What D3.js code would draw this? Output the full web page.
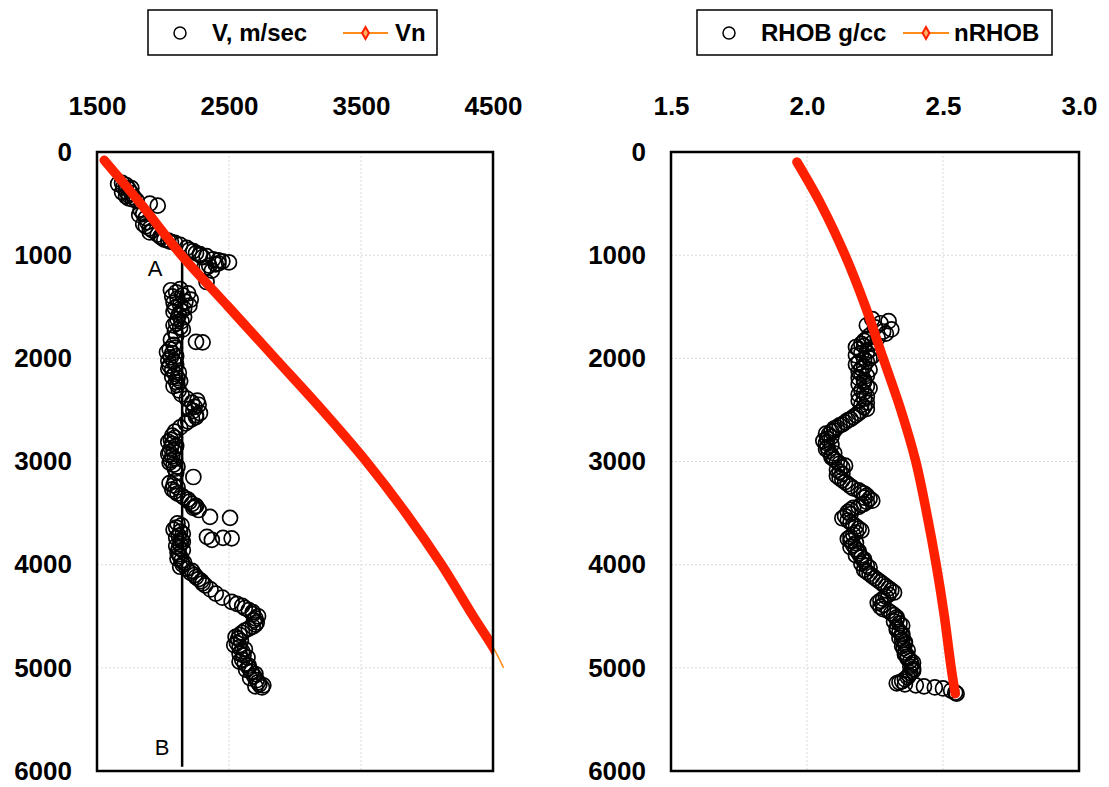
<!DOCTYPE html>
<html>
<head>
<meta charset="utf-8">
<script src="https://cdn.jsdelivr.net/npm/d3@7"></script>
<style>
  body { margin: 0; background: #fff; }
  svg { display: block; font-family: "Liberation Sans", Arial, sans-serif; }
</style>
</head>
<body>
<svg id="chart" width="1109" height="787"></svg>
<script>
// ---- data ----
var depthTicks = [0, 1000, 2000, 3000, 4000, 5000, 6000];
var velTicks = [1500, 2500, 3500, 4500];
var rhoTicks = [1.5, 2.0, 2.5, 3.0];

// measured velocity (m/sec) vs depth
var vDepth = [300, 320, 340, 360, 380, 400, 420, 440, 460, 500, 520, 560, 600, 640, 680, 720, 760, 800, 830, 860,
  880, 900, 930, 960, 990, 1010, 1040, 1060, 1070, 1080, 1100, 1130, 1150, 1260, 1330, 1360, 1390, 1420, 1450, 1480,
  1510, 1540, 1580, 1620, 1660, 1700, 1740, 1780, 1820, 1840, 1845, 1870, 1910, 1950, 1990, 2030, 2070, 2110, 2150, 2190,
  2230, 2270, 2310, 2350, 2390, 2430, 2470, 2510, 2550, 2590, 2630, 2670, 2710, 2750, 2790, 2830, 2870, 2910, 2950, 2990,
  3030, 3070, 3110, 3150, 3190, 3230, 3270, 3310, 3350, 3390, 3430, 3440, 3470, 3537, 3546, 3730, 3740, 3745, 3760, 3600,
  3640, 3680, 3720, 3760, 3800, 3840, 3880, 3920, 3960, 4000, 4040, 4080, 4120, 4160, 4200, 4240, 4280, 4320, 4360, 4400,
  4440, 4480, 4520, 4560, 4600, 4640, 4680, 4720, 4760, 4800, 4840, 4880, 4920, 4960, 5000, 5040, 5080, 5120, 5160, 5190,
  310, 350, 390, 430, 450, 470, 610, 700, 740, 780, 820, 850, 870, 950, 980, 1000, 1020, 1050, 1090, 1120,
  1340, 1370, 1400, 1430, 1460, 1490, 1520, 1550, 1600, 1640, 1680, 1720, 1900, 1940, 1980, 2020, 2060, 2100, 2140, 2180,
  2220, 2260, 2410, 2450, 2490, 2530, 2570, 2610, 2770, 2810, 2850, 2890, 2930, 2970, 3010, 3050, 3210, 3250, 3290, 3330,
  3370, 3410, 3450, 3620, 3660, 3700, 3740, 3780, 3820, 3860, 3900, 3940, 3980, 4020, 4060, 4100, 4140, 4180, 4380, 4420,
  4460, 4500, 4540, 4580, 4620, 4660, 4700, 4740, 4780, 4820, 4860, 4900, 4940, 4980, 5020, 5060, 5100, 5140, 5180, 5170];
var vValue = [1690, 1720, 1700, 1740, 1720, 1760, 1740, 1780, 1770, 1900, 1960, 1830, 1850, 1870, 1880, 1870, 1920, 1960, 1990, 2040,
  2090, 2130, 2180, 2230, 2280, 2330, 2380, 2450, 2500, 2420, 2350, 2310, 2370, 2330, 2130, 2100, 2150, 2110, 2170, 2130,
  2090, 2140, 2120, 2110, 2100, 2130, 2090, 2100, 2060, 2250, 2300, 2080, 2050, 2070, 2060, 2080, 2050, 2070, 2090, 2110,
  2100, 2080, 2120, 2140, 2180, 2220, 2240, 2230, 2250, 2220, 2170, 2130, 2090, 2070, 2060, 2070, 2060, 2050, 2070, 2060,
  2080, 2090, 2100, 2230, 2090, 2080, 2070, 2110, 2160, 2200, 2250, 2240, 2270, 2356, 2508, 2333, 2455, 2520, 2370, 2110,
  2100, 2130, 2120, 2140, 2130, 2120, 2110, 2130, 2140, 2150, 2180, 2210, 2250, 2290, 2320, 2360, 2400, 2450, 2520, 2600,
  2650, 2680, 2700, 2710, 2680, 2620, 2580, 2570, 2560, 2580, 2600, 2610, 2600, 2620, 2650, 2670, 2690, 2710, 2730, 2750,
  1660, 1760, 1690, 1720, 1740, 1800, 1820, 1850, 1900, 1900, 1980, 2010, 2060, 2200, 2250, 2280, 2300, 2420, 2400, 2330,
  2060, 2190, 2070, 2210, 2080, 2200, 2160, 2080, 2160, 2140, 2080, 2150, 2090, 2030, 2100, 2040, 2100, 2040, 2120, 2070,
  2130, 2110, 2260, 2270, 2200, 2280, 2250, 2190, 2090, 2040, 2100, 2080, 2040, 2090, 2050, 2110, 2050, 2110, 2090, 2140,
  2190, 2220, 2230, 2140, 2080, 2150, 2100, 2150, 2100, 2150, 2120, 2110, 2160, 2130, 2220, 2240, 2270, 2300, 2560, 2620,
  2680, 2720, 2690, 2700, 2650, 2600, 2550, 2590, 2540, 2620, 2580, 2640, 2580, 2650, 2630, 2700, 2660, 2720, 2700, 2760];

// normal velocity trend Vn
var vnDepth = [80, 500, 1000, 1500, 2000, 2500, 3000, 3500, 4000, 4500, 4800, 5000];
var vnValue = [1555, 1830, 2140, 2495, 2850, 3205, 3540, 3840, 4110, 4350, 4500, 4580];

// measured bulk density (g/cc) vs depth
var rhobDepth = [1620, 1640, 1660, 1700, 1720, 1760, 1780, 1800, 1830, 1860, 1890, 1920, 1950, 1980, 2010, 2040, 2080, 2110, 2150, 2190,
  2230, 2270, 2310, 2350, 2390, 2430, 2470, 2510, 2550, 2590, 2620, 2650, 2680, 2710, 2740, 2780, 2820, 2860, 2900, 2940,
  2980, 3020, 3060, 3100, 3140, 3180, 3220, 3260, 3300, 3330, 3360, 3390, 3420, 3450, 3490, 3530, 3570, 3610, 3650, 3690,
  3730, 3770, 3810, 3850, 3890, 3930, 3970, 4010, 4050, 4090, 4130, 4170, 4210, 4250, 4290, 4330, 4370, 4410, 4450, 4490,
  4530, 4570, 4610, 4650, 4690, 4730, 4770, 4810, 4850, 4890, 4930, 4970, 5010, 5050, 5090, 5130, 5150, 5160, 5170, 5180,
  5190, 5200, 5220, 5240, 5250,
  1680, 1740, 1810, 1850, 1880, 1910, 1940, 1970, 2000, 2030, 2060, 2100, 2130, 2170, 2210, 2250, 2290, 2330, 2370, 2410,
  2450, 2490, 2530, 2570, 2600, 2640, 2670, 2700, 2730, 2760, 2800, 2840, 2880, 2920, 2960, 3000, 3040, 3080, 3120, 3160,
  3200, 3240, 3280, 3310, 3350, 3380, 3410, 3440, 3470, 3510, 3550, 3590, 3630, 3670, 3710, 3750, 3790, 3830, 3870, 3910,
  3950, 3990, 4030, 4070, 4110, 4150, 4190, 4230, 4270, 4310, 4350, 4390, 4430, 4470, 4510, 4550, 4590, 4630, 4670, 4710,
  4750, 4790, 4830, 4870, 4910, 4950, 4990, 5030, 5070, 5110, 5140];
var rhobValue = [2.24, 2.30, 2.27, 2.25, 2.31, 2.29, 2.23, 2.26, 2.21, 2.20, 2.18, 2.23, 2.20, 2.24, 2.21, 2.19, 2.21, 2.23, 2.20, 2.19,
  2.21, 2.22, 2.20, 2.19, 2.21, 2.22, 2.21, 2.20, 2.18, 2.16, 2.14, 2.12, 2.10, 2.09, 2.08, 2.075, 2.07, 2.075, 2.08, 2.09,
  2.10, 2.12, 2.13, 2.12, 2.11, 2.13, 2.15, 2.17, 2.20, 2.22, 2.23, 2.22, 2.20, 2.17, 2.15, 2.14, 2.15, 2.17, 2.19, 2.18,
  2.16, 2.16, 2.17, 2.18, 2.19, 2.20, 2.21, 2.22, 2.21, 2.23, 2.25, 2.27, 2.29, 2.31, 2.30, 2.28, 2.26, 2.27, 2.30, 2.32,
  2.33, 2.34, 2.33, 2.34, 2.35, 2.35, 2.36, 2.355, 2.36, 2.37, 2.38, 2.385, 2.39, 2.38, 2.37, 2.35, 2.33, 2.36, 2.40, 2.43,
  2.47, 2.50, 2.53, 2.545, 2.55,
  2.22, 2.28, 2.22, 2.24, 2.21, 2.19, 2.22, 2.18, 2.23, 2.22, 2.18, 2.20, 2.19, 2.22, 2.21, 2.19, 2.23, 2.21, 2.22, 2.19,
  2.20, 2.22, 2.19, 2.17, 2.15, 2.13, 2.11, 2.10, 2.07, 2.09, 2.06, 2.09, 2.07, 2.10, 2.09, 2.11, 2.14, 2.11, 2.13, 2.12,
  2.14, 2.16, 2.19, 2.21, 2.21, 2.24, 2.21, 2.19, 2.16, 2.16, 2.13, 2.16, 2.18, 2.20, 2.17, 2.15, 2.18, 2.16, 2.19, 2.18,
  2.21, 2.20, 2.23, 2.22, 2.24, 2.26, 2.28, 2.30, 2.32, 2.29, 2.27, 2.28, 2.28, 2.31, 2.33, 2.32, 2.35, 2.33, 2.35, 2.34,
  2.36, 2.35, 2.37, 2.36, 2.37, 2.39, 2.38, 2.39, 2.375, 2.36, 2.34];

// normal density trend nRHOB
var nrhobDepth = [97, 500, 1000, 1500, 2000, 2500, 3000, 3500, 4000, 4500, 5000, 5250];
var nrhobValue = [1.963, 2.05, 2.14, 2.215, 2.28, 2.345, 2.40, 2.44, 2.475, 2.505, 2.53, 2.545];

// A-B reference line
var abVelocity = 2145;
var abDepth = [950, 5960];

// ---- drawing ----
var svg = d3.select("#chart");
var plotTop = 152, plotBottom = 771;
var y = d3.scaleLinear().domain([0, 6000]).range([plotTop, plotBottom]);

function drawPanel(p) {
  var x = d3.scaleLinear().domain(p.domain).range([p.left, p.right]);
  var g = svg.append("g");
  var clipId = "clip-" + p.name;

  g.append("clipPath").attr("id", clipId)
    .append("rect")
      .attr("x", p.left).attr("y", plotTop)
      .attr("width", p.right - p.left).attr("height", plotBottom - plotTop);

  // gridlines
  g.selectAll(".hgrid")
    .data(depthTicks.slice(1, -1))
    .enter().append("line")
      .attr("x1", p.left).attr("x2", p.right)
      .attr("y1", function(d) { return y(d); })
      .attr("y2", function(d) { return y(d); })
      .attr("stroke", "#d9d9d9").attr("stroke-dasharray", "2,2");
  g.selectAll(".vgrid")
    .data(p.ticks.slice(1, -1))
    .enter().append("line")
      .attr("y1", plotTop).attr("y2", plotBottom)
      .attr("x1", function(d) { return x(d); })
      .attr("x2", function(d) { return x(d); })
      .attr("stroke", "#d9d9d9").attr("stroke-dasharray", "2,2");

  // axes (labels only)
  var topAxis = g.append("g")
    .attr("transform", "translate(0," + plotTop + ")")
    .call(d3.axisTop(x).tickValues(p.ticks).tickFormat(p.fmt).tickSize(0).tickPadding(37));
  var leftAxis = g.append("g")
    .attr("transform", "translate(" + p.left + ",0)")
    .call(d3.axisLeft(y).tickValues(depthTicks).tickFormat(d3.format("d")).tickSize(0).tickPadding(25));
  [topAxis, leftAxis].forEach(function(a) {
    a.select(".domain").remove();
    a.selectAll("text")
      .attr("fill", "#000")
      .style("font-family", "'Liberation Sans', Arial, sans-serif")
      .style("font-size", "26px")
      .style("font-weight", "bold");
  });

  if (p.extra) p.extra(g, x);

  // scatter
  g.append("g").selectAll("circle")
    .data(p.pointsDepth)
    .enter().append("circle")
      .attr("cx", function(d, i) { return x(p.pointsValue[i]); })
      .attr("cy", function(d) { return y(d); })
      .attr("r", 7.5)
      .attr("fill", "none")
      .attr("stroke", "#000")
      .attr("stroke-width", 1.7);

  // trend line
  var trend = p.trendDepth.map(function(d, i) { return [p.trendValue[i], d]; });
  var line = d3.line()
    .x(function(d) { return x(d[0]); })
    .y(function(d) { return y(d[1]); })
    .curve(d3.curveCatmullRom);
  g.append("path")
    .attr("d", line(trend))
    .attr("fill", "none")
    .attr("stroke", "#ff8c1a")
    .attr("stroke-width", 1.5);
  g.append("path")
    .attr("d", line(trend))
    .attr("clip-path", "url(#" + clipId + ")")
    .attr("fill", "none")
    .attr("stroke", "#ff2000")
    .attr("stroke-width", 9.5)
    .attr("stroke-linecap", "round");

  // plot border
  g.append("rect")
    .attr("x", p.left).attr("y", plotTop)
    .attr("width", p.right - p.left).attr("height", plotBottom - plotTop)
    .attr("fill", "none").attr("stroke", "#000").attr("stroke-width", 2.5);

  // legend
  var lg = g.append("g");
  var L = p.legend;
  lg.append("rect")
    .attr("x", L.x0).attr("y", 10).attr("width", L.x1 - L.x0).attr("height", 45)
    .attr("fill", "#fff").attr("stroke", "#000").attr("stroke-width", 1.5);
  lg.append("circle")
    .attr("cx", L.circle).attr("cy", 33).attr("r", 6)
    .attr("fill", "none").attr("stroke", "#000").attr("stroke-width", 1.5);
  lg.append("text")
    .attr("x", L.text1).attr("y", 41)
    .style("font-size", "24px").style("font-weight", "bold")
    .text(p.labels[0]);
  lg.append("line")
    .attr("x1", L.line0).attr("x2", L.line1).attr("y1", 33).attr("y2", 33)
    .attr("stroke", "#ff8c1a").attr("stroke-width", 2);
  var mid = (L.line0 + L.line1) / 2;
  lg.append("path")
    .attr("d", d3.symbol().type(d3.symbolDiamond).size(40)())
    .attr("transform", "translate(" + mid + ",33)")
    .attr("fill", "#ffb060").attr("stroke", "#ff2000").attr("stroke-width", 2);
  lg.append("text")
    .attr("x", L.text2).attr("y", 41)
    .style("font-size", "24px").style("font-weight", "bold")
    .text(p.labels[1]);
}

drawPanel({
  name: "vel",
  left: 97, right: 493,
  domain: [1500, 4500],
  ticks: velTicks,
  fmt: d3.format("d"),
  pointsDepth: vDepth, pointsValue: vValue,
  trendDepth: vnDepth, trendValue: vnValue,
  labels: ["V, m/sec", "Vn"],
  legend: { x0: 148, x1: 437, circle: 180, text1: 212, line0: 343, line1: 388, text2: 395 },
  extra: function(g, x) {
    g.append("line")
      .attr("x1", x(abVelocity)).attr("x2", x(abVelocity))
      .attr("y1", y(abDepth[0])).attr("y2", y(abDepth[1]))
      .attr("stroke", "#000").attr("stroke-width", 2.5);
    g.append("text").attr("x", 155).attr("y", 276)
      .attr("text-anchor", "middle").style("font-size", "22px").text("A");
    g.append("text").attr("x", 162).attr("y", 755)
      .attr("text-anchor", "middle").style("font-size", "22px").text("B");
  }
});

drawPanel({
  name: "rho",
  left: 671, right: 1079,
  domain: [1.5, 3.0],
  ticks: rhoTicks,
  fmt: d3.format(".1f"),
  pointsDepth: rhobDepth, pointsValue: rhobValue,
  trendDepth: nrhobDepth, trendValue: nrhobValue,
  labels: ["RHOB g/cc", "nRHOB"],
  legend: { x0: 697, x1: 1052, circle: 729, text1: 761, line0: 903, line1: 949, text2: 954 }
});
</script>
</body>
</html>
